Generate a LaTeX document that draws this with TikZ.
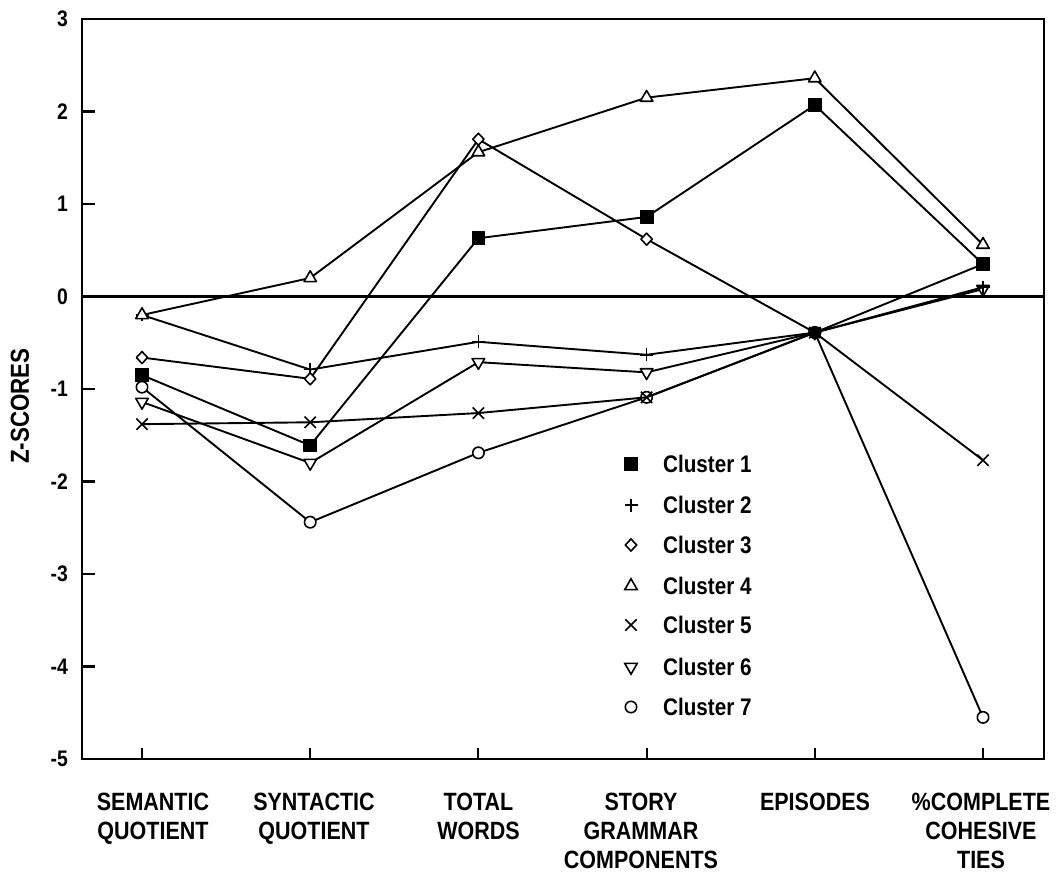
\documentclass[tikz,border=0pt]{standalone}
\usepackage{fontspec}
\newfontfamily\plotfont[FakeStretch=0.86]{Liberation Sans}
\usetikzlibrary{plotmarks}
\begin{document}
\begin{tikzpicture}[x=1pt,y=92.5pt,
  font=\plotfont\bfseries,
  frameline/.style={line width=2.6pt},
  dataline/.style={line width=1.9pt, line join=round},
  catlabel/.style={anchor=north, align=center, inner sep=0pt, font=\plotfont\bfseries\fontsize{25}{29}\selectfont},
  ticklabel/.style={anchor=east, inner sep=0pt, font=\plotfont\bfseries\fontsize{22.5}{24}\selectfont},
  legtext/.style={anchor=base west, inner sep=0pt, font=\plotfont\bfseries\fontsize{24}{28}\selectfont},
  mC1/.style={mark=square*, mark size=6.4pt, mark options={solid, fill=black, line width=1pt}},
  mC2/.style={mark=+, mark size=6.5pt, mark options={solid, line width=1.6pt}},
  mC3/.style={mark=diamond*, mark size=6pt, mark options={solid, fill=white, line width=1.6pt, xscale=1.25}},
  mC4/.style={mark=triangle*, mark size=7.2pt, mark options={solid, fill=white, line width=1.6pt}},
  mC5/.style={mark=x, mark size=8pt, mark options={solid, line width=1.6pt}},
  mC6/.style={mark=triangle*, mark size=7.2pt, mark options={solid, fill=white, line width=1.6pt, rotate=180}},
  mC7/.style={mark=*, mark size=5.7pt, mark options={solid, fill=white, line width=1.6pt}},
]
\useasboundingbox (0,{(296.5-875)/92.5}) rectangle (1060,{296.5/92.5});
\fill[white] (0,{(296.5-875)/92.5}) rectangle (1060,{296.5/92.5});

% frame
\draw[frameline] (82,3) rectangle (1044,-5);
% zero line
\draw[line width=2.1pt] (82,0) -- (1044,0);
% y ticks and labels
\foreach \v in {2,1,-1,-2,-3,-4} {
  \draw[line width=2.1pt] (82,\v) -- (95,\v);
}
\foreach \v/\t in {3/3,2/2,1/1,0/0,-1/-1,-2/-2,-3/-3,-4/-4,-5/-5} {
  \node[ticklabel] (yl\v) at (68,\v) {\t};
}
% x ticks
\foreach \x in {142,310.2,478.4,646.6,814.8,983} {
  \draw[line width=1.9pt] (\x,-5) -- (\x,-4.885);
}
% category labels
\node[catlabel] (c1) at (153,{(296.5-793)/92.5}) {SEMANTIC\\QUOTIENT};
\node[catlabel] (c2) at (314,{(296.5-793)/92.5}) {SYNTACTIC\\QUOTIENT};
\node[catlabel] (c3) at (478.5,{(296.5-793)/92.5}) {TOTAL\\WORDS};
\node[catlabel] (c4) at (641,{(296.5-793)/92.5}) {STORY\\GRAMMAR\\COMPONENTS};
\node[catlabel] (c5) at (815,{(296.5-793)/92.5}) {EPISODES};
\node[catlabel] (c6) at (981,{(296.5-793)/92.5}) {\%COMPLETE\\COHESIVE\\TIES};
% y axis title
\node[rotate=90, inner sep=0pt, font=\plotfont\bfseries\fontsize{26}{30}\selectfont] (ytitle) at (20,{(296.5-406)/92.5}) {Z-SCORES};

% data
\draw[dataline] plot[mC7] coordinates {(142,-0.98) (310.2,-2.44) (478.4,-1.69) (646.6,-1.09) (814.8,-0.39) (983,-4.55)};
\draw[dataline] plot[mC5] coordinates {(142,-1.38) (310.2,-1.36) (478.4,-1.26) (646.6,-1.09) (814.8,-0.39) (983,-1.77)};
\draw[dataline] plot[mC6] coordinates {(142,-1.14) (310.2,-1.80) (478.4,-0.71) (646.6,-0.82) (814.8,-0.39) (983,0.08)};
\draw[dataline] plot[mC2] coordinates {(142,-0.2) (310.2,-0.79) (478.4,-0.49) (646.6,-0.63) (814.8,-0.39) (983,0.10)};
\draw[dataline] plot[mC3] coordinates {(142,-0.66) (310.2,-0.89) (478.4,1.70) (646.6,0.62) (814.8,-0.39) (983,0.35)};
\draw[dataline] plot[mC4] coordinates {(142,-0.2) (310.2,0.2) (478.4,1.56) (646.6,2.15) (814.8,2.36) (983,0.56)};
\draw[dataline] plot[mC1] coordinates {(142,-0.85) (310.2,-1.61) (478.4,0.63) (646.6,0.86) (814.8,2.07) (983,0.35)};
\fill (814.8,-0.39) circle (6.5pt);

% legend
\foreach \i/\r in {1/464,2/505,3/545,4/586,5/625,6/667,7/707} {
  \path plot[only marks, mC\i] coordinates {(631,{(296.5-\r)/92.5})};
  \node[legtext] (leg\i) at (663,{(296.5-\r-8.7)/92.5}) {Cluster \i};
}
\end{tikzpicture}
\end{document}
